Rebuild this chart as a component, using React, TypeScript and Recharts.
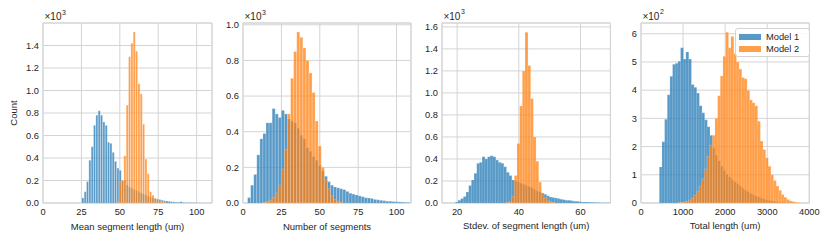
import React from 'react';
import { BarChart, Bar, XAxis, YAxis, CartesianGrid, ReferenceArea, Legend } from 'recharts';

// two models, drawn as overlapping histograms
const seriesNames = ['Model 1', 'Model 2'];
const COLORS = ['#1f77b4', '#ff7f0e'];

// Mean segment length (um): bins of 1.52 from 25.3
const meanBinStart = 25.3;
const meanBinWidth = 1.52;
const meanModel1 = [45, 100, 190, 380, 500, 690, 780, 820, 780, 720, 690, 540, 530, 450, 370, 310, 290, 200, 200, 160, 140, 130, 120, 110, 100, 90, 80, 70, 60, 50, 45, 40, 35, 30, 25, 20, 18, 15, 12, 10, 8, 7, 12, 6, 5, 4, 4, 3, 3, 2, 2, 1];
const meanModel2 = [0, 0, 0, 0, 0, 0, 0, 0, 0, 0, 0, 0, 0, 0, 0, 10, 190, 200, 420, 870, 1300, 1420, 1520, 1350, 1060, 970, 700, 390, 260, 100, 70, 40, 25, 15, 10, 5, 0, 0, 0, 0, 0, 0, 0, 0, 0, 0, 0, 0, 0, 0, 0, 0];
const meanTicksX = [0, 25, 50, 75, 100];
const meanTicksY = [0, 200, 400, 600, 800, 1000, 1200, 1400];

// Number of segments: bins of 2 from 3
const segBinStart = 3;
const segBinWidth = 2;
const segModel1 = [30, 100, 160, 270, 360, 390, 450, 450, 530, 500, 480, 520, 500, 470, 460, 450, 420, 380, 360, 310, 290, 260, 240, 210, 180, 150, 120, 100, 90, 85, 80, 75, 65, 55, 50, 45, 40, 35, 30, 28, 25, 20, 18, 15, 13, 10, 10, 8, 7, 6, 5, 4, 3];
const segModel2 = [0, 0, 0, 0, 0, 3, 8, 15, 30, 55, 100, 190, 300, 500, 700, 850, 960, 930, 870, 800, 730, 620, 460, 320, 200, 130, 80, 40, 20, 10, 5, 0, 0, 0, 0, 0, 0, 0, 0, 0, 0, 0, 0, 0, 0, 0, 0, 0, 0, 0, 0, 0, 0];
const segTicksX = [0, 25, 50, 75, 100];
const segTicksY = [0, 200, 400, 600, 800, 1000];

// Stdev. of segment length (um): bins of 0.87 from 19.4
const sdBinStart = 19.4;
const sdBinWidth = 0.87;
const sdModel1 = [10, 25, 40, 60, 100, 160, 210, 270, 360, 370, 420, 400, 420, 430, 420, 390, 370, 360, 330, 280, 250, 210, 200, 190, 180, 170, 160, 150, 140, 125, 110, 100, 90, 80, 65, 55, 50, 45, 40, 35, 30, 25, 25, 20, 15, 15, 12, 10, 10, 8, 7, 6, 5, 4, 3, 3, 2, 2];
const sdModel2 = [0, 0, 0, 0, 0, 0, 0, 0, 0, 0, 0, 0, 0, 0, 0, 0, 0, 0, 0, 5, 10, 60, 250, 540, 880, 1200, 1550, 1250, 950, 600, 380, 190, 90, 45, 20, 10, 5, 0, 0, 0, 0, 0, 0, 0, 0, 0, 0, 0, 0, 0, 0, 0, 0, 0, 0, 0, 0, 0];
const sdTicksX = [20, 40, 60];
const sdTicksY = [0, 200, 400, 600, 800, 1000, 1200, 1400, 1600];

// Total length (um): bins of 63 from 435
const lenBinStart = 435;
const lenBinWidth = 63;
const lenModel1 = [128, 217, 297, 384, 449, 492, 495, 502, 550, 510, 535, 510, 420, 410, 390, 345, 320, 295, 270, 240, 195, 170, 150, 130, 115, 102, 92, 83, 75, 68, 60, 52, 45, 40, 34, 30, 25, 21, 17, 14, 11, 9, 7, 6, 4, 3, 3, 2, 2, 1, 1, 1, 0, 0];
const lenModel2 = [0, 0, 0, 0, 0, 0, 0, 1, 2, 3, 6, 10, 17, 27, 40, 60, 85, 120, 165, 205, 240, 300, 380, 450, 520, 605, 550, 590, 530, 500, 475, 445, 440, 400, 365, 355, 345, 290, 220, 190, 160, 130, 100, 80, 60, 45, 30, 20, 12, 8, 5, 3, 2, 1];
const lenTicksX = [0, 1000, 2000, 3000, 4000];
const lenTicksY = [0, 100, 200, 300, 400, 500, 600];

const FONT = '"Liberation Sans", Arial, sans-serif';
const INK = '#262626';
const GRID = '#d4d4d4';
const PLOT_TOP = 23;
const PLOT_H = 180;
const Y_W = 40;
const RIGHT = 16;
const FS = 9.3;

const toRows = (start: number, width: number, a: number[], b: number[]) =>
  a.map((v, i) => ({ x: +(start + width * (i + 0.5)).toFixed(4), m1: v, m2: b[i] ?? 0 }));

const thousands = (v: number) => (v / 1000).toFixed(1);
const hundreds = (v: number) => (v / 100).toFixed(0);

const panels = [
  { key: 'mean', plotLeft: 43, plotW: 169, rows: toRows(meanBinStart, meanBinWidth, meanModel1, meanModel2), xDomain: [0, 110], xTicks: meanTicksX, yDomain: [0, 1600], yTicks: meanTicksY, fmt: thousands, exp: '3', xLabel: 'Mean segment length (um)', count: true, legend: false },
  { key: 'seg', plotLeft: 242.7, plotW: 168, rows: toRows(segBinStart, segBinWidth, segModel1, segModel2), xDomain: [0, 109.4], xTicks: segTicksX, yDomain: [0, 1010], yTicks: segTicksY, fmt: thousands, exp: '3', xLabel: 'Number of segments', count: false, legend: false },
  { key: 'sd', plotLeft: 441.6, plotW: 168.4, rows: toRows(sdBinStart, sdBinWidth, sdModel1, sdModel2), xDomain: [15.1, 69.7], xTicks: sdTicksX, yDomain: [0, 1635], yTicks: sdTicksY, fmt: thousands, exp: '3', xLabel: 'Stdev. of segment length (um)', count: false, legend: false },
  { key: 'len', plotLeft: 641, plotW: 168.3, rows: toRows(lenBinStart, lenBinWidth, lenModel1, lenModel2), xDomain: [0, 4000], xTicks: lenTicksX, yDomain: [0, 638], yTicks: lenTicksY, fmt: hundreds, exp: '2', xLabel: 'Total length (um)', count: false, legend: true },
];

const XTitle = ({ viewBox, text }: any) => (
  <text x={viewBox.x + viewBox.width / 2} y={viewBox.y + 26.5} textAnchor="middle" fill={INK} fontSize={9.5} fontFamily={FONT}>
    {text}
  </text>
);

const YNotes = ({ viewBox, exp, count }: any) => {
  const left = viewBox.x + viewBox.width;
  return (
    <g>
      <text x={left + 1.5} y={20} fill={INK} fontSize={10} fontFamily={FONT}>
        ×10
        <tspan dx={0.6} dy={-5.5} fontSize={7}>{exp}</tspan>
      </text>
      {count && (
        <text x={14.3} y={113} transform="rotate(-90, 14.3, 113)" textAnchor="middle" fill={INK} fontSize={9.5} fontFamily={FONT}>
          Count
        </text>
      )}
    </g>
  );
};

const LegendBox = () => (
  <div style={{ border: '1px solid #d4d4d4', borderRadius: 3, background: 'rgba(255,255,255,0.85)', padding: '2.5px 2px 0 3px', fontFamily: FONT, fontSize: 9.3, color: INK, boxSizing: 'border-box', width: 75, height: 29.5, whiteSpace: 'nowrap', overflow: 'hidden' }}>
    {seriesNames.map((name, i) => (
      <div key={name} style={{ display: 'flex', alignItems: 'center', height: 11, marginTop: i === 0 ? 0 : 1.5 }}>
        <span style={{ display: 'inline-block', flex: '0 0 21.5px', height: 6, background: COLORS[i], opacity: 0.75, marginRight: 5.5 }} />
        <span>{name}</span>
      </div>
    ))}
  </div>
);

const HistPanel = ({ p }: { p: (typeof panels)[number] }) => (
  <div style={{ position: 'absolute', left: p.plotLeft - Y_W, top: 0 }}>
    <BarChart
      width={Y_W + p.plotW + RIGHT}
      height={242}
      data={p.rows}
      margin={{ top: PLOT_TOP, right: RIGHT, bottom: 0, left: 0 }}
      barCategoryGap={0}
      barGap={0}
    >
      <CartesianGrid xAxisId="a" stroke={GRID} strokeWidth={1} />
      <XAxis
        xAxisId="a"
        dataKey="x"
        type="number"
        domain={p.xDomain}
        ticks={p.xTicks}
        interval={0}
        allowDataOverflow
        tickLine={false}
        axisLine={false}
        tickSize={3}
        tickMargin={2}
        height={242 - PLOT_TOP - PLOT_H}
        tick={{ fill: INK, fontSize: FS, fontFamily: FONT }}
        label={(props: any) => <XTitle {...props} text={p.xLabel} />}
      />
      <XAxis xAxisId="b" dataKey="x" type="number" domain={p.xDomain} allowDataOverflow hide />
      <YAxis
        type="number"
        domain={p.yDomain}
        ticks={p.yTicks}
        interval={0}
        allowDataOverflow
        width={Y_W}
        tickLine={false}
        axisLine={false}
        tickSize={2}
        tickMargin={2}
        tickFormatter={p.fmt}
        tick={{ fill: INK, fontSize: FS, fontFamily: FONT }}
        label={(props: any) => <YNotes {...props} exp={p.exp} count={p.count} />}
      />
      <Bar xAxisId="a" dataKey="m1" name={seriesNames[0]} fill={COLORS[0]} fillOpacity={0.75} stroke="#ffffff" strokeOpacity={0.4} strokeWidth={0.5} isAnimationActive={false} />
      <Bar xAxisId="b" dataKey="m2" name={seriesNames[1]} fill={COLORS[1]} fillOpacity={0.75} stroke="#ffffff" strokeOpacity={0.4} strokeWidth={0.5} isAnimationActive={false} />
      <ReferenceArea xAxisId="a" x1={p.xDomain[0]} x2={p.xDomain[1]} y1={p.yDomain[0]} y2={p.yDomain[1]} fill="none" stroke={GRID} strokeWidth={1} ifOverflow="visible" />
      {p.legend && (
        <Legend
          layout="horizontal"
          align="center"
          verticalAlign="middle"
          content={() => <LegendBox />}
          wrapperStyle={{ left: 735 - (p.plotLeft - Y_W), top: 27.5, width: 75, height: 29.5 }}
        />
      )}
    </BarChart>
  </div>
);

export default function App() {
  return (
    <div style={{ position: 'absolute', left: 0, top: 0, width: 830, height: 242, background: '#ffffff', fontFamily: FONT }}>
      {panels.map((p) => (
        <HistPanel key={p.key} p={p} />
      ))}
    </div>
  );
}
